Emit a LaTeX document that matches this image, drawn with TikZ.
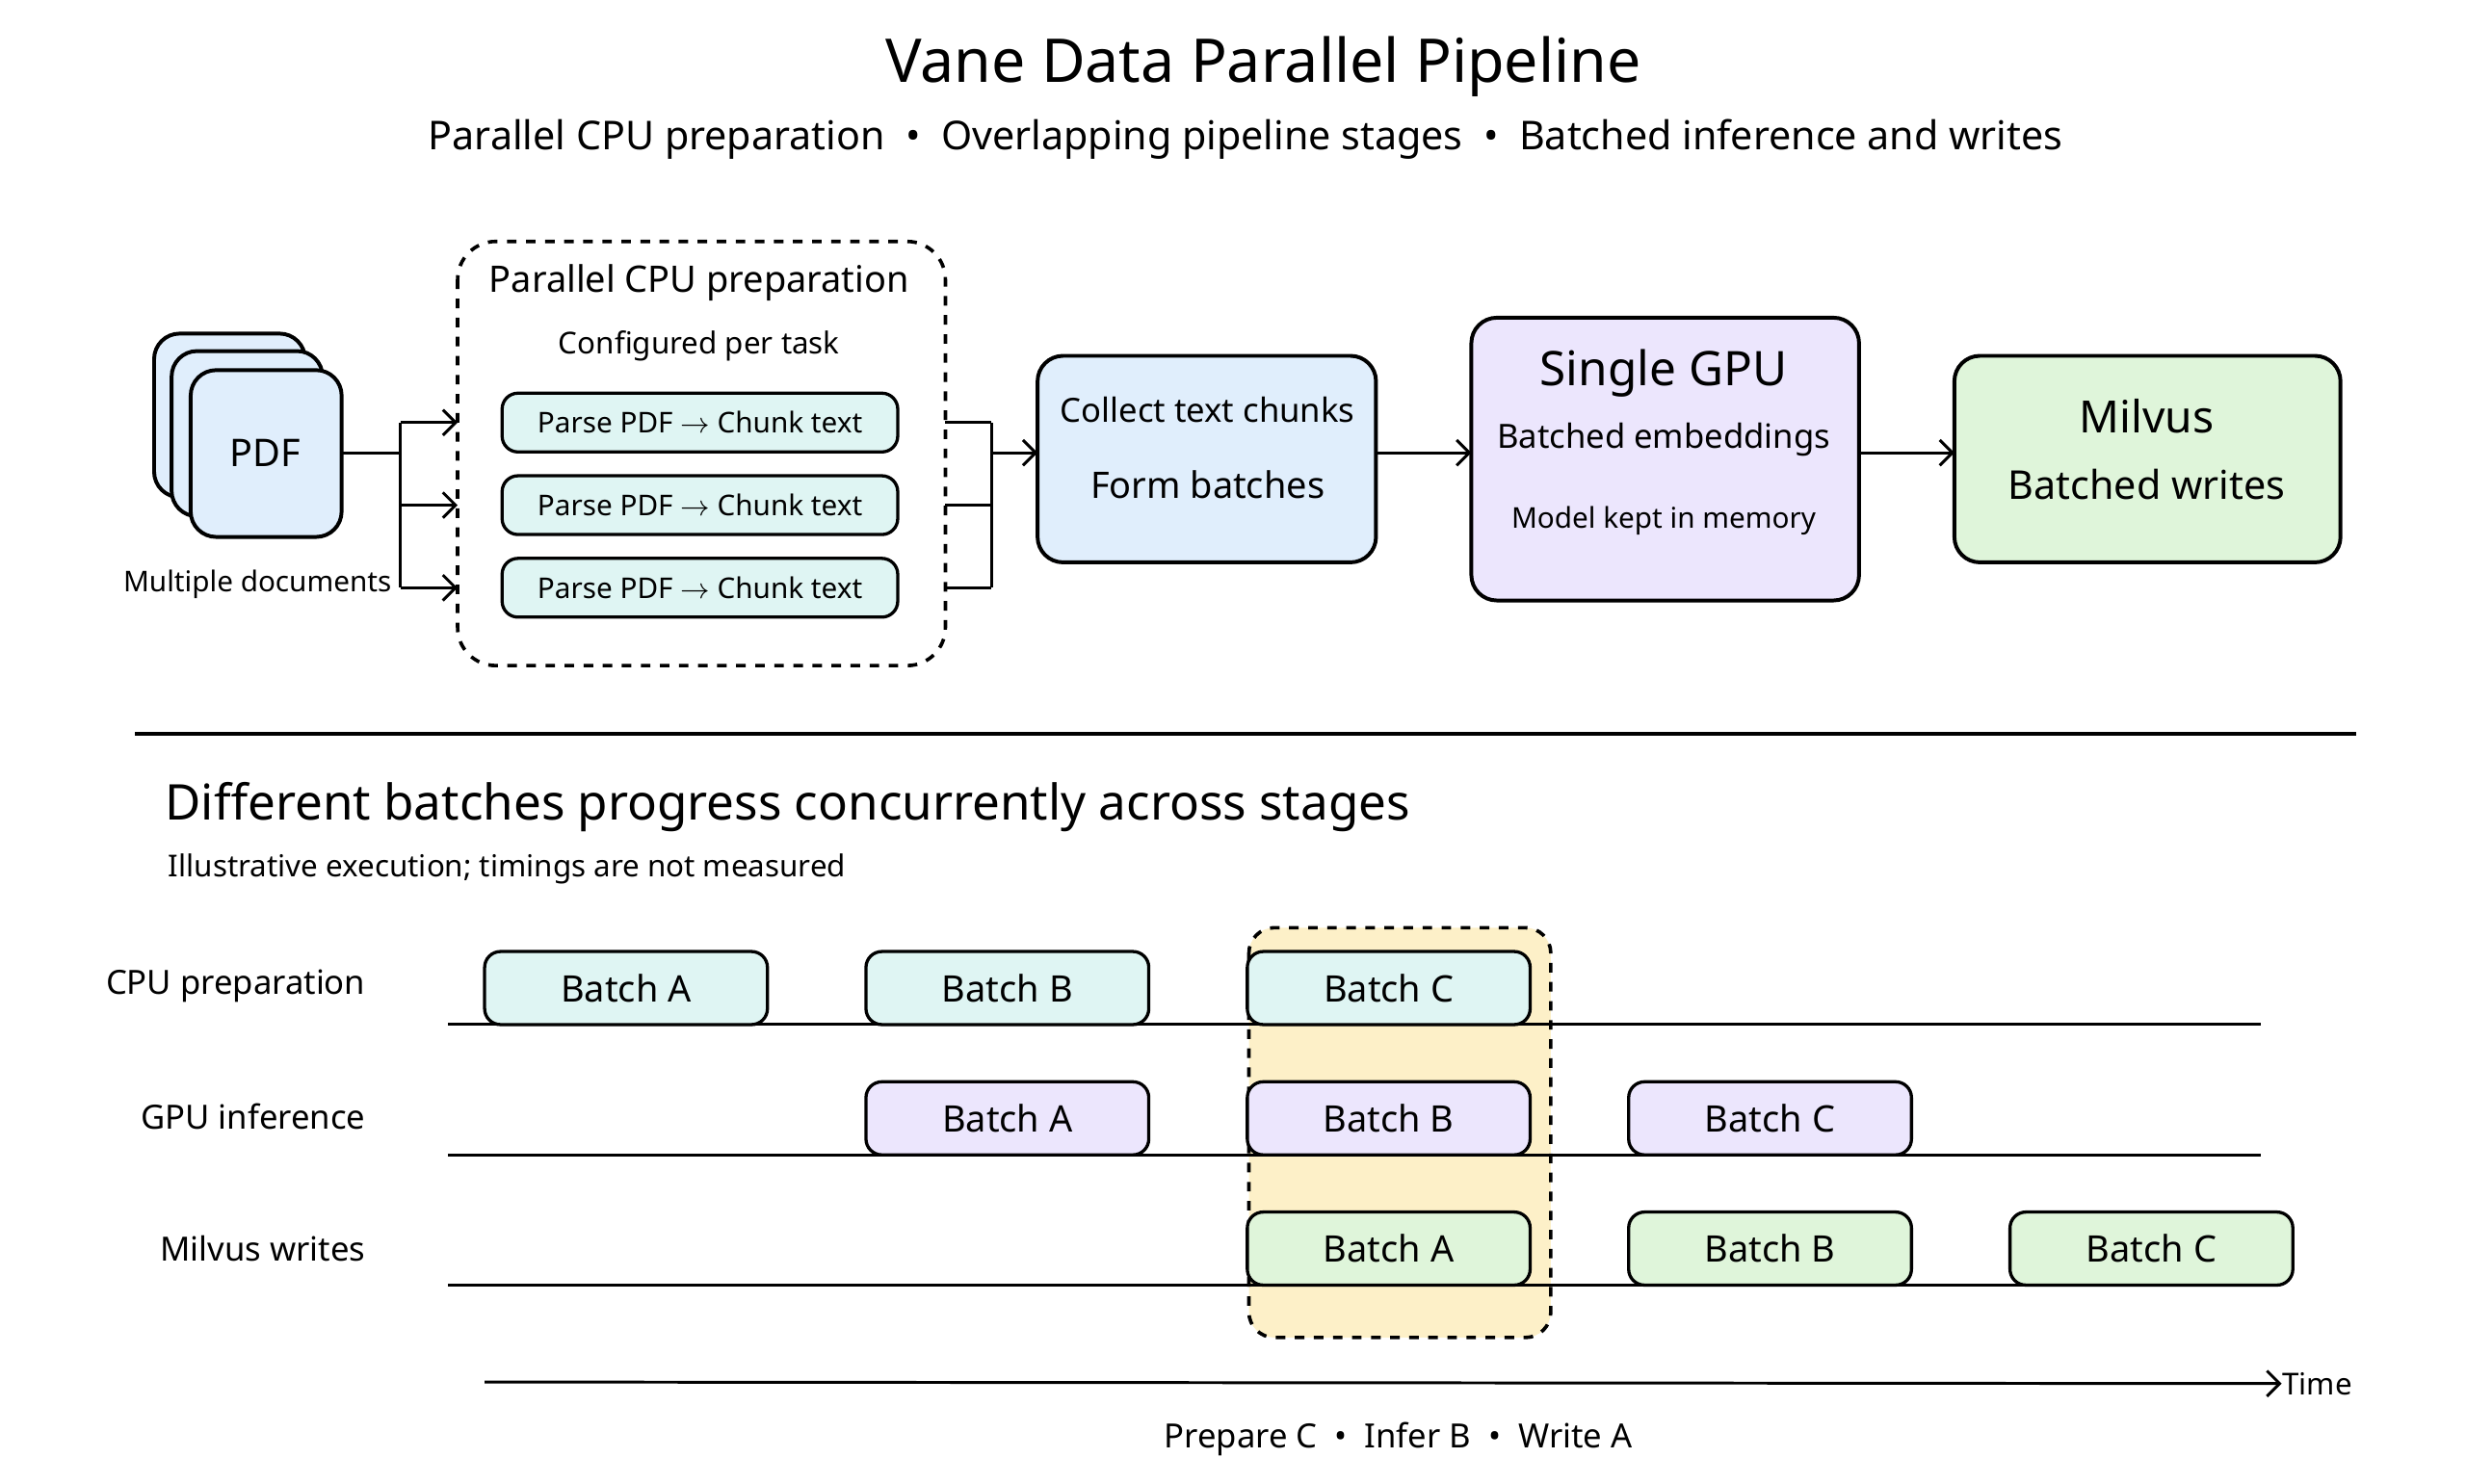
\documentclass[tikz,border=0pt]{standalone}
\usepackage{fontspec}
\setmainfont{Noto Sans}
\usetikzlibrary{arrows.meta}
\definecolor{docblue}{HTML}{E0EEFC}
\definecolor{prepteal}{HTML}{DFF5F3}
\definecolor{gpulav}{HTML}{ECE6FD}
\definecolor{milgreen}{HTML}{DFF5DA}
\definecolor{hiyellow}{HTML}{FDF0C8}
\tikzset{
  box/.style={draw, line width=1.2pt, rounded corners=8pt},
  parsebox/.style={draw, line width=1pt, rounded corners=5pt, fill=prepteal, minimum width=124.5pt, minimum height=18.5pt, font=\fontsize{9}{10}\selectfont},
  batch/.style={draw, line width=1pt, rounded corners=5pt, minimum width=89pt, minimum height=23pt, font=\fontsize{11.5}{13}\selectfont\bfseries},
  lane/.style={line width=0.9pt},
  conn/.style={line width=0.9pt},
  arr/.style={conn, -{Straight Barb[length=4pt]}},
  rowlabel/.style={anchor=east, font=\fontsize{10.5}{12}\selectfont\bfseries}
}
\begin{document}
\begin{tikzpicture}[x=0.5pt, y=-0.5pt]
\useasboundingbox (0,0) rectangle (1552,934);

% Title
\node (title) at (795,42) {\fontsize{19}{22}\selectfont\bfseries Vane Data Parallel Pipeline};
\node (subtitle) at (784,88) {\fontsize{12.5}{15}\selectfont Parallel CPU preparation \ \textbullet\ \ Overlapping pipeline stages \ \textbullet\ \ Batched inference and writes};

% PDF stack
\draw[box, fill=docblue] (97,210) rectangle (192,313);
\draw[box, fill=docblue] (108,221) rectangle (203,325);
\draw[box, fill=docblue] (120,233) rectangle (215,338);
\node (pdf) at (167,285) {\fontsize{12}{14}\selectfont\bfseries PDF};
\coordinate (pdfout) at (215,285);
\node (multi) at (162,368) {\fontsize{9}{10}\selectfont Multiple documents};

% Parallel CPU preparation
\draw[box, dashed, line width=1.1pt, rounded corners=12pt] (288,152) rectangle (595,419);
\node (preptitle) at (440,178) {\fontsize{11.5}{13}\selectfont\bfseries Parallel CPU preparation};
\node (prepsub) at (440,218) {\fontsize{9.5}{11}\selectfont Configured per task};
\foreach \i/\y in {1/266,2/318,3/370}{
  \node[parsebox] (parse\i) at (440.5,\y) {Parse PDF $\rightarrow$ Chunk text};
  \coordinate (in\i) at (288,\y);
  \coordinate (out\i) at (595,\y);
  \draw[arr] (252,\y) -- (in\i);
  \draw[conn] (out\i) -- (624,\y);
}
\draw[conn] (pdfout) -- (252,285);
\draw[conn] (252,266) -- (252,370);
\draw[conn] (624,266) -- (624,370);

% Collect
\draw[box, fill=docblue] (653,224) rectangle (866,354);
\coordinate (collect) at (653,285);
\node (collecta) at (760,258) {\fontsize{10.5}{12}\selectfont\bfseries Collect text chunks};
\node (collectb) at (760,305) {\fontsize{11.5}{13}\selectfont Form batches};
\draw[arr] (624,285) -- (collect);

% GPU
\draw[box, fill=gpulav] (926,200) rectangle (1170,378);
\node (gpua) at (1047,235) {\fontsize{15}{17}\selectfont\bfseries Single GPU};
\node (gpub) at (1047,277) {\fontsize{10.5}{12}\selectfont Batched embeddings};
\node (gpuc) at (1047,328) {\fontsize{9}{10}\selectfont Model kept in memory};
\draw[arr] (866,285) -- (926,285);

% Milvus
\draw[box, fill=milgreen] (1230,224) rectangle (1473,354);
\node (mila) at (1351,262) {\fontsize{14}{16}\selectfont\bfseries Milvus};
\node (milb) at (1351,305) {\fontsize{12.5}{14}\selectfont Batched writes};
\draw[arr] (1170,285) -- (1230,285);

% Separator
\draw[line width=1pt] (85,462) -- (1483,462);

% Timeline
\node[anchor=west] (heading) at (97,508) {\fontsize{15.5}{18}\selectfont\bfseries Different batches progress concurrently across stages};
\node[anchor=west] (headsub) at (99,547) {\fontsize{9.5}{11}\selectfont Illustrative execution; timings are not measured};

\draw[box, dashed, line width=1.1pt, fill=hiyellow] (786,584) rectangle (976,842);

\node[rowlabel] (rcpu) at (237,621) {CPU preparation};
\node[rowlabel] (rgpu) at (237,703) {GPU inference};
\node[rowlabel] (rmil) at (237,786) {Milvus writes};
\foreach \y in {645,727,809} \draw[lane] (282,\y) -- (1423,\y);

\foreach \c/\x/\n in {A/394/1,B/634/2,C/874/3}
  \node[batch, fill=prepteal] (cpu\c) at (\x,622) {Batch \c};
\foreach \c/\x in {A/634,B/874,C/1114}
  \node[batch, fill=gpulav] (gpu\c) at (\x,704) {Batch \c};
\foreach \c/\x in {A/874,B/1114,C/1354}
  \node[batch, fill=milgreen] (mil\c) at (\x,786) {Batch \c};

\coordinate (tstart) at (305,870);
\node[anchor=west, inner sep=0pt] (time) at (1436,871) {\fontsize{9.5}{11}\selectfont Time};
\draw[arr] (tstart) -- (time.west);
\node (caption) at (880,906) {\fontsize{10.5}{12}\selectfont\bfseries Prepare C \ \textbullet\ \ Infer B \ \textbullet\ \ Write A};
\end{tikzpicture}
\end{document}
